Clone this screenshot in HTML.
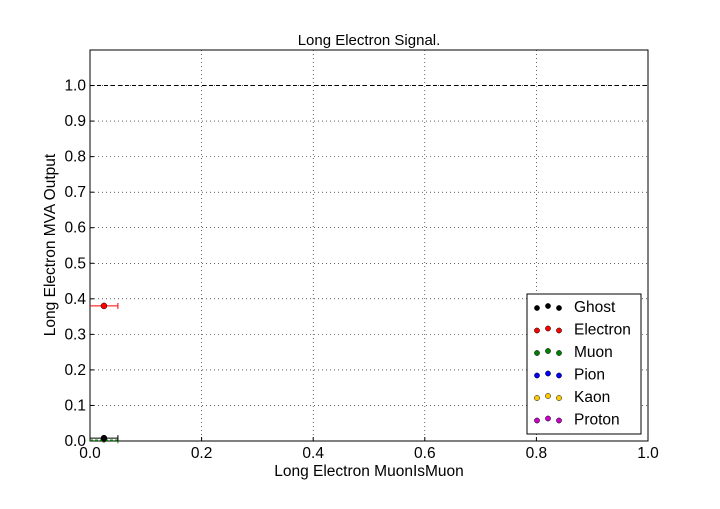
<!DOCTYPE html>
<html><head><meta charset="utf-8"><style>
body{margin:0;background:#fff;font-family:"Liberation Sans","DejaVu Sans",sans-serif}
svg text{font-family:"Liberation Sans","DejaVu Sans",sans-serif}
</style></head><body>
<svg id="c" width="720" height="504" xmlns="http://www.w3.org/2000/svg"></svg>
<script>
const xTicks=[0,0.2,0.4,0.6,0.8,1.0];
const yTicks=[0,0.1,0.2,0.3,0.4,0.5,0.6,0.7,0.8,0.9,1.0];
const seriesNames=["Ghost","Electron","Muon","Pion","Kaon","Proton"];
const seriesColors=["#000000","#ff0000","#008000","#0000ff","#ffcc00","#cc00cc"];
const pointX=[0.025,0.025,0.025];
const pointY=[0.002,0.38,0.008];
const pointXErr=[0.025,0.025,0.025];
const pointSeries=[2,1,0];
const L=90,R=648,T=50,B=441;
const sx=v=>L+(R-L)*v/1.0;
const sy=v=>B-(B-T)*v/1.1;
const svg=document.getElementById('c');
const NS="http://www.w3.org/2000/svg";
function mk(t,a,p){const e=document.createElementNS(NS,t);for(const k in a)e.setAttribute(k,a[k]);(p||svg).appendChild(e);return e;}
xTicks.forEach(v=>{
  const g=mk('line',{x1:sx(v),x2:sx(v),y1:T,y2:B,stroke:'#000','stroke-width':0.6,'stroke-dasharray':'1,3'});
  
  
  const t=mk('line',{x1:sx(v),x2:sx(v),y1:B,y2:B-4,stroke:'#000'});
  
  
  const lb=mk('text',{x:sx(v),y:B+17,'font-size':15.5,'text-anchor':'middle'});lb.textContent=v.toFixed(1);
  
  
});
yTicks.forEach(v=>{
  const g=mk('line',{x1:L,x2:R,y1:sy(v),y2:sy(v),stroke:'#000','stroke-width':0.6,'stroke-dasharray':'1,3'});
  
  
  const t=mk('line',{x1:L,x2:L+4,y1:sy(v),y2:sy(v),stroke:'#000'});
  
  
  const lb=mk('text',{x:L-4,y:sy(v)+5,'font-size':15.5,'text-anchor':'end'});lb.textContent=v.toFixed(1);
  
  
});
const ref=mk('line',{x1:L,x2:R,y1:sy(1.0),y2:sy(1.0),stroke:'#000','stroke-dasharray':'4,3'});


const ax=mk('rect',{x:L,y:T,width:R-L,height:B-T,fill:'none',stroke:'#000'});


pointX.forEach((v,i)=>{
  const c=seriesColors[pointSeries[i]];
  const y=sy(pointY[i]);
  const x1=sx(v-pointXErr[i]),x2=sx(v+pointXErr[i]);
  const isMuon=pointSeries[i]==2;
  const e=mk('line',{x1:x1,x2:x2,y1:y,y2:y,stroke:c,'stroke-width':isMuon?1.5:1,'stroke-dasharray':isMuon?'3,2':''});
  
  
  const cap=mk('line',{x1:x2,x2:x2,y1:y-3,y2:y+3,stroke:c});
  
  
  const p=mk('circle',{cx:sx(v),cy:y,r:isMuon?2:3,fill:c,stroke:'#000','stroke-width':0.5});
  
  
});
const lg=mk('rect',{x:527,y:294,width:114,height:140,fill:'#fff',stroke:'#000'});


seriesNames.forEach((n,i)=>{
  const y=307+i*22.5;
  [537,548,559].forEach((x,j)=>{
    const d=mk('circle',{cx:x,cy:y+(j==1?-1:1),r:2.6,fill:seriesColors[i],stroke:'#000','stroke-width':0.5});
    
    
  });
  const t=mk('text',{x:574,y:y+5,'font-size':15.5});t.textContent=n;
  
  
});
const ti=mk('text',{x:369,y:45,'font-size':15,'text-anchor':'middle'});ti.textContent='Long Electron Signal.';


const xl=mk('text',{x:369,y:476,'font-size':15.5,'text-anchor':'middle'});xl.textContent='Long Electron MuonIsMuon';


const yl=mk('text',{x:0,y:0,'font-size':15.5,'text-anchor':'middle',transform:'translate(55,245) rotate(-90)'});yl.textContent='Long Electron MVA Output';


</script>
</body></html>
